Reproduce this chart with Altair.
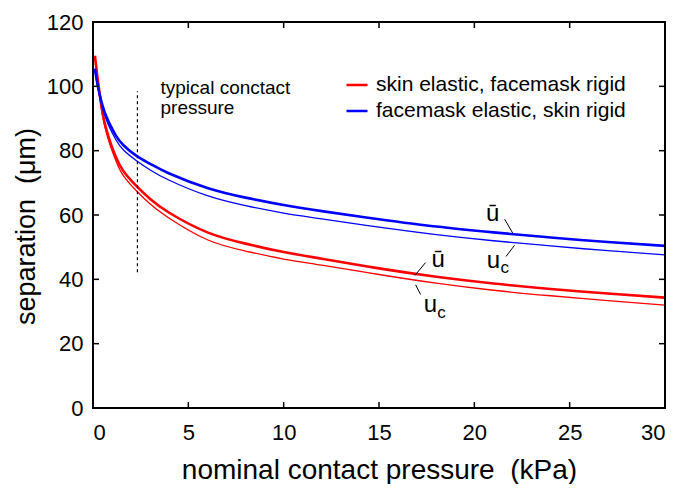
import altair as alt
import pandas as pd

# ---- data ----
pressure = [0.1, 0.2, 0.3, 0.5, 0.7, 0.9, 1.2, 1.6, 2.3, 3, 4, 6, 8, 10, 12, 15, 18, 21, 24, 27, 30]
red_mean = [109.5, 104.5, 99.8, 91.8, 86.6, 82.7, 78.0, 73.6, 68.9, 65.0, 60.7, 54.6, 51.1, 48.5, 46.4, 43.4, 40.8, 38.7, 37.0, 35.6, 34.3]
red_c = [109.0, 104.0, 99.2, 90.9, 85.6, 81.7, 76.9, 72.2, 67.4, 63.4, 59.0, 52.3, 48.8, 46.3, 44.4, 41.5, 38.8, 36.6, 34.9, 33.4, 32.0]
blue_mean = [105.5, 101.8, 98.8, 94.0, 90.6, 88.0, 84.7, 81.7, 78.3, 75.9, 72.9, 68.4, 65.4, 63.1, 61.2, 58.7, 56.4, 54.6, 53.0, 51.6, 50.4]
blue_c = [105.0, 101.3, 98.2, 93.2, 89.6, 86.8, 83.4, 80.2, 76.8, 74.0, 70.8, 66.0, 62.9, 60.6, 58.8, 56.2, 53.9, 52.0, 50.4, 48.9, 47.6]

cases = ["skin elastic, facemask rigid", "facemask elastic, skin rigid"]
colors = ["#ff0000", "#0000ff"]

x_ticks = [5, 10, 15, 20, 25]
y_ticks = [20, 40, 60, 80, 100]
x_labels = [0, 5, 10, 15, 20, 25, 30]
y_labels = [0, 20, 40, 60, 80, 100, 120]

# typical contact pressure marker
typ_p = [2.33]
typ_lo = [42.2]
typ_hi = [98.5]
typ_text = ["typical conctact\npressure"]
typ_text_x = [3.54]
typ_text_y = [97.5]

# curve labels (text, x, y, font size)
lab_text = ["ū", "u", "c", "ū", "u", "c"]
lab_x = [20.96, 21.0, 21.6, 18.1, 17.7, 18.28]
lab_y = [58.0, 43.5, 41.9, 43.9, 29.9, 27.9]
lab_fs = [24, 24, 17, 24, 24, 17]

# leader lines (x, y, x2, y2)
ld_x = [21.59, 21.66, 17.44, 16.92]
ld_y = [58.7, 47.1, 45.2, 38.3]
ld_x2 = [22.01, 22.11, 16.88, 17.18]
ld_y2 = [54.4, 50.6, 41.2, 35.3]

# ---- tables ----
rows = []
for case, kind, vals in [
    (cases[0], "mean", red_mean),
    (cases[0], "c", red_c),
    (cases[1], "mean", blue_mean),
    (cases[1], "c", blue_c),
]:
    for p, v in zip(pressure, vals):
        rows.append({"p": p, "sep": v, "case": case, "kind": kind,
                     "series": case + kind, "sw": 2.6 if kind == "mean" else 1.3})
df = pd.DataFrame(rows)

W, H = 572, 386
FONT = "Liberation Sans"
xs = alt.Scale(domain=[0, 30], nice=False, zero=False)
ys = alt.Scale(domain=[0, 120], nice=False, zero=False)

x_axis = alt.Axis(values=x_labels, title="nominal contact pressure\u00a0 (kPa)",
                  labelFontSize=22, titleFontSize=28, titleFontWeight="normal",
                  ticks=False, tickSize=0, domain=False, grid=False,
                  labelPadding=14, titleY=70, titleBaseline="alphabetic",
                  labelColor="black", titleColor="black", labelFont=FONT, titleFont=FONT)
y_axis = alt.Axis(values=y_labels, title="separation\u00a0 (μm)",
                  labelFontSize=22, titleFontSize=27, titleFontWeight="normal",
                  ticks=False, tickSize=0, domain=False, grid=False,
                  labelPadding=10, titleX=-59, titleY=204, titleAlign="center",
                  titleBaseline="alphabetic",
                  labelColor="black", titleColor="black", labelFont=FONT, titleFont=FONT)

lines = alt.Chart(df).mark_line(interpolate="natural").encode(
    x=alt.X("p:Q", scale=xs, axis=x_axis),
    y=alt.Y("sep:Q", scale=ys, axis=y_axis),
    color=alt.Color("case:N", scale=alt.Scale(domain=cases, range=colors),
                    legend=alt.Legend(title=None, orient="none", legendX=252, legendY=51,
                                      symbolType="stroke", symbolSize=441,
                                      symbolStrokeWidth=2.5, labelFontSize=21,
                                      labelFont=FONT, labelColor="black",
                                      labelOffset=7, rowPadding=4, labelLimit=400,
                                      padding=0)),
    strokeWidth=alt.StrokeWidth("sw:Q", scale=None),
    detail="series:N",
)

typ_df = pd.DataFrame({"p": typ_p, "lo": typ_lo, "hi": typ_hi})
dashed = alt.Chart(typ_df).mark_rule(color="black", strokeDash=[3, 3], strokeWidth=1.2).encode(
    x=alt.X("p:Q", scale=xs), y=alt.Y("lo:Q", scale=ys), y2="hi:Q")

typ_t = alt.Chart(pd.DataFrame({"t": typ_text, "x": typ_text_x, "y": typ_text_y})).mark_text(
    align="left", baseline="alphabetic", fontSize=19, font=FONT, lineBreak="\n",
    lineHeight=20, color="black").encode(
    x=alt.X("x:Q", scale=xs), y=alt.Y("y:Q", scale=ys), text="t:N")

labels = alt.Chart(pd.DataFrame({"t": lab_text, "x": lab_x, "y": lab_y, "fs": lab_fs})).mark_text(
    align="center", baseline="alphabetic", font=FONT, color="black").encode(
    x=alt.X("x:Q", scale=xs), y=alt.Y("y:Q", scale=ys), text="t:N",
    size=alt.Size("fs:Q", scale=None))

leaders = alt.Chart(pd.DataFrame({"x": ld_x, "y": ld_y, "x2": ld_x2, "y2": ld_y2})).mark_rule(
    color="black", strokeWidth=1).encode(
    x=alt.X("x:Q", scale=xs), y=alt.Y("y:Q", scale=ys), x2="x2:Q", y2="y2:Q")

xt_df = pd.DataFrame({"v": x_ticks})
yt_df = pd.DataFrame({"v": y_ticks})
tk = dict(color="black", strokeWidth=1.5)
t_bottom = alt.Chart(xt_df).mark_rule(**tk).encode(
    x=alt.X("v:Q", scale=xs), y=alt.value(H), y2=alt.value(H - 6))
t_top = alt.Chart(xt_df).mark_rule(**tk).encode(
    x=alt.X("v:Q", scale=xs), y=alt.value(0), y2=alt.value(6))
t_left = alt.Chart(yt_df).mark_rule(**tk).encode(
    y=alt.Y("v:Q", scale=ys), x=alt.value(0), x2=alt.value(6))
t_right = alt.Chart(yt_df).mark_rule(**tk).encode(
    y=alt.Y("v:Q", scale=ys), x=alt.value(W), x2=alt.value(W - 6))

frame = alt.Chart(pd.DataFrame({"f": [0]})).mark_rect(
    fill="transparent", stroke="black", strokeWidth=2).encode(
    x=alt.value(0), x2=alt.value(W), y=alt.value(0), y2=alt.value(H))

chart = alt.layer(lines, dashed, typ_t, labels, leaders,
                  t_bottom, t_top, t_left, t_right, frame).properties(
    width=W, height=H, autosize="none",
    padding={"left": 85, "top": 14, "right": 12, "bottom": 76},
    background="white",
).configure(font=FONT)

chart.save("out.html", embed_options={"renderer": "svg", "actions": False})
